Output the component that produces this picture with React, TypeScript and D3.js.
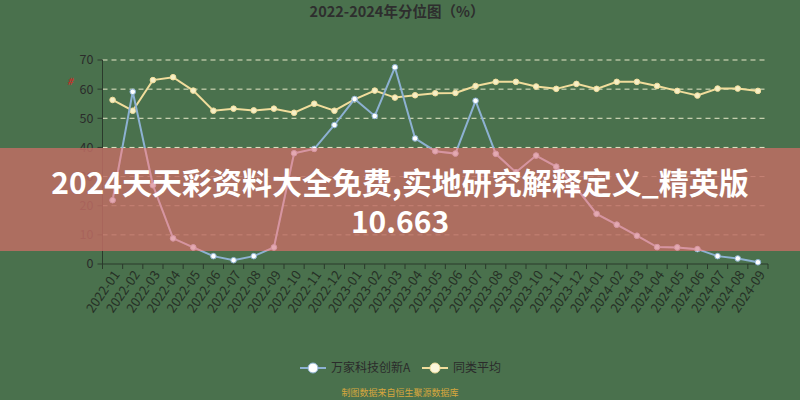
import React from "react";
import * as d3 from "d3";

const categories = [
  "2022-01","2022-02","2022-03","2022-04","2022-05","2022-06","2022-07","2022-08","2022-09","2022-10","2022-11","2022-12",
  "2023-01","2023-02","2023-03","2023-04","2023-05","2023-06","2023-07","2023-08","2023-09","2023-10","2023-11","2023-12",
  "2024-01","2024-02","2024-03","2024-04","2024-05","2024-06","2024-07","2024-08","2024-09",
];
const fundValues = [21.9, 59.1, 27, 8.8, 5.7, 2.7, 1.3, 2.7, 5.7, 38.0, 39.5, 47.7, 56.6, 50.8, 67.5, 43.1, 38.7, 37.9, 56.0, 37.8, 31.5, 37.2, 33.4, 26, 17.2, 13.5, 9.7, 5.8, 5.7, 5.1, 2.7, 1.9, 0.6];
const avgValues = [56.3, 52.6, 63.1, 64.1, 59.5, 52.6, 53.3, 52.7, 53.3, 51.9, 55.0, 52.6, 56.5, 59.5, 57.1, 57.9, 58.6, 58.7, 61.1, 62.5, 62.5, 60.9, 60.1, 61.8, 60.1, 62.5, 62.5, 61.1, 59.4, 57.8, 60.2, 60.2, 59.4];
const yTicks = [0, 10, 20, 30, 40, 50, 60, 70];
const seriesNames = ["万家科技创新A", "同类平均"];
const titleText = "2022-2024年分位图（%）";
const overlayLines = ["2024天天彩资料大全免费,实地研究解释定义_精英版", "10.663"];
const sourceText = "制图数据来自恒生聚源数据库";

const W = 800, H = 400;
const left = 102.5, right = 768, top = 60, bottom = 264;
const bandTop = 148, bandBottom = 251;
const FONT = "'Noto Sans CJK SC', 'Noto Sans', sans-serif";

export default function App() {
  const x = d3.scaleBand<string>().domain(categories).range([left, right]).padding(0);
  const y = d3.scaleLinear().domain([0, 70]).range([bottom, top]);
  const cx = (i: number) => (x(categories[i]) as number) + x.bandwidth() / 2;
  const line = d3.line<number>().x((_, i) => cx(i)).y((d) => y(d));
  const blue = "#8db1d2";
  const pink = "#dc9aa8";
  const yellow = "#f1dd9c";
  const bg = "#4a714d";
  const axisColor = "#2b3a2c";

  const boundaries = categories.map((c) => x(c) as number).concat([right]);

  return (
    <svg width={W} height={H} style={{ position: "absolute", left: 0, top: 0 }} fontFamily={FONT}>
      <defs>
        <clipPath id="bandClip">
          <rect x={0} y={bandTop} width={W} height={bandBottom - bandTop} />
        </clipPath>
      </defs>
      <rect x={0} y={0} width={W} height={H} fill={bg} />
      <text x={397} y={17} textAnchor="middle" fontSize={14.5} fontWeight="bold" fill="#2e2e2e">{titleText}</text>
      <text x={70} y={85} textAnchor="middle" fontSize={10} fontWeight="bold" fontStyle="italic" fill="#c0302a">#</text>
      {/* grid */}
      {yTicks.filter((t) => t > 0).map((t) => (
        <line key={t} x1={left} x2={right} y1={y(t)} y2={y(t)} stroke="#e6e8c8" strokeWidth={1} strokeDasharray="5,4" />
      ))}
      {/* y axis */}
      <line x1={left} x2={left} y1={top} y2={bottom} stroke={axisColor} strokeWidth={1} />
      {yTicks.map((t) => (
        <g key={t}>
          <line x1={left - 5} x2={left} y1={y(t)} y2={y(t)} stroke={axisColor} />
          <text x={left - 9} y={y(t)} dy="0.35em" textAnchor="end" fontSize={12.5} fill="#2b2b2b">{t}</text>
        </g>
      ))}
      {/* x axis */}
      <line x1={left} x2={right} y1={bottom} y2={bottom} stroke={axisColor} strokeWidth={1} />
      {boundaries.map((b, i) => (
        <line key={i} x1={b} x2={b} y1={bottom} y2={bottom + 5} stroke={axisColor} />
      ))}
      {categories.map((c, i) => (
        <text key={c} transform={`translate(${cx(i) + 4},${bottom + 8}) rotate(-55)`} textAnchor="end" dy="0.35em" fontSize={13} fill="#263026">{c}</text>
      ))}
      {/* series */}
      <path d={line(avgValues) || ""} fill="none" stroke={yellow} strokeWidth={2} />
      {avgValues.map((v, i) => (
        <circle key={i} cx={cx(i)} cy={y(v)} r={2.8} fill="#f6efc6" stroke={yellow} strokeWidth={1} />
      ))}
      <path d={line(fundValues) || ""} fill="none" stroke={blue} strokeWidth={2} />
      {fundValues.map((v, i) => (
        <circle key={i} cx={cx(i)} cy={y(v)} r={2.8} fill="#ffffff" stroke={blue} strokeWidth={1} />
      ))}
      {/* overlay band */}
      <rect x={0} y={bandTop} width={W} height={bandBottom - bandTop} fill="rgba(192,110,100,0.84)" />
      <g clipPath="url(#bandClip)" opacity={0.85}>
        <path d={line(fundValues) || ""} fill="none" stroke={pink} strokeWidth={2} />
        {fundValues.map((v, i) => (
          <circle key={i} cx={cx(i)} cy={y(v)} r={2.8} fill="#e8b0bb" stroke={pink} strokeWidth={1} />
        ))}
      </g>
      <text x={400} y={194} textAnchor="middle" fontSize={30} fontWeight="bold" fill="#ffffff">{overlayLines[0]}</text>
      <text x={400} y={233} textAnchor="middle" fontSize={30} fontWeight="bold" fill="#ffffff">{overlayLines[1]}</text>
      {/* legend */}
      <g>
        <line x1={300} x2={326} y1={368} y2={368} stroke={blue} strokeWidth={2} />
        <circle cx={313} cy={368} r={5} fill="#ffffff" stroke={blue} strokeWidth={1} />
        <text x={331} y={368} dy="0.35em" fontSize={12} fill="#2b2b2b">{seriesNames[0]}</text>
        <line x1={422} x2={448} y1={368} y2={368} stroke={yellow} strokeWidth={2} />
        <circle cx={435} cy={368} r={5} fill="#fbf6dc" stroke={yellow} strokeWidth={1} />
        <text x={453} y={368} dy="0.35em" fontSize={12} fill="#2b2b2b">{seriesNames[1]}</text>
      </g>
      <text x={400} y={393} dy="0.35em" textAnchor="middle" fontSize={9} fill="#d6a73e">{sourceText}</text>
    </svg>
  );
}
